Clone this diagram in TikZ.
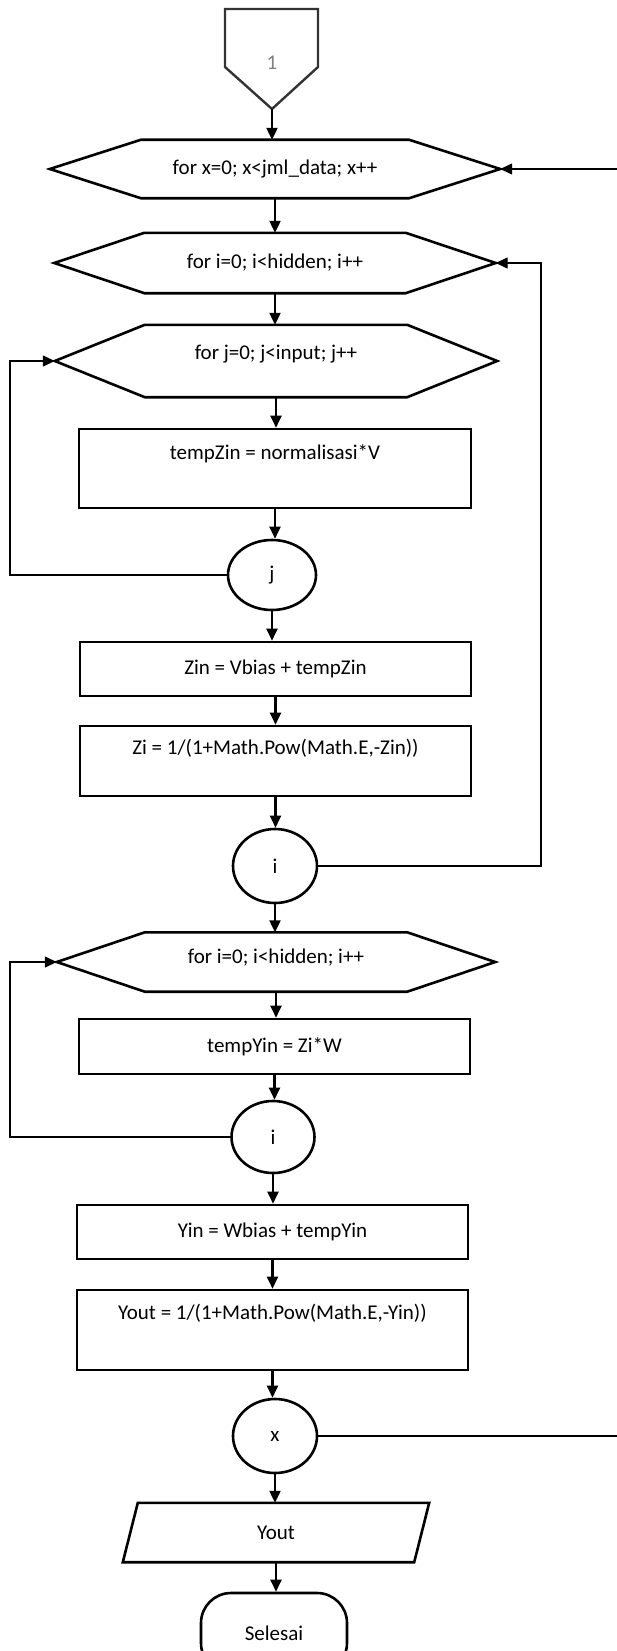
\documentclass[tikz,border=0pt]{standalone}
\usepackage{fontspec}
\setmainfont{Carlito}
\usetikzlibrary{arrows.meta,calc,shapes.geometric}
\newcommand\hexdraw[2]{%
  \draw[shapeline] (#1.north west) -- (#1.north east) -- ($(#1.east)+(#2,0)$) -- (#1.south east) -- (#1.south west) -- ($(#1.west)-(#2,0)$) -- cycle;
  \coordinate (#1w) at ($(#1.west)-(#2,0)$);
  \coordinate (#1e) at ($(#1.east)+(#2,0)$);}
\begin{document}
\begin{tikzpicture}[x=1pt,y=-1pt,
  shapeline/.style={draw=black,line width=2.6pt,line join=miter},
  txt/.style={font=\fontsize{21}{24}\selectfont,inner sep=0pt},
  hexcore/.style={txt,draw=none},
  flowarrow/.style={line width=2.2pt,-{Triangle[length=12pt,width=11pt]}},
  looparrow/.style={line width=1.4pt,-{Triangle[length=12pt,width=11pt]}},
  procbox/.style={draw,line width=2.6pt,inner sep=0pt},
  conn/.style={draw,ellipse,line width=2.6pt,inner sep=0pt,txt},
]
\useasboundingbox (0,0) rectangle (616,1651);
\coordinate (lx) at (10,0);
\coordinate (rx) at (541,0);
\coordinate (ox) at (618,0);

% off-page connector
\node[txt,text=black!50] (op) at (272,63) {1};
\coordinate (opt) at (272,109);
\draw[line width=2.4pt,draw=black!80,line join=miter] (225,9) -- (318,9) -- (318,67) -- (opt) -- (225,67) -- cycle;

% hexagons
\node[hexcore,minimum width=268pt,minimum height=58pt] (h1) at (275,169) {for x=0; x<jml\_data; x++};
\hexdraw{h1}{91}
\node[hexcore,minimum width=261pt,minimum height=60pt] (h2) at (275,263) {for i=0; i<hidden; i++};
\hexdraw{h2}{90}
\node[hexcore,minimum width=262pt,minimum height=72pt] (h3) at (276,361) {};
\hexdraw{h3}{90}
\node[txt] (h3t) at (276,354) {for j=0; j<input; j++};
\node[hexcore,minimum width=262pt,minimum height=59pt] (h4) at (276,962) {};
\hexdraw{h4}{88}
\node[txt] (h4t) at (276,958) {for i=0; i<hidden; i++};

% process boxes
\node[procbox,minimum width=392pt,minimum height=79pt] (b1) at (275,468.5) {};
\node[txt] (b1t) at ($(b1.north)+(0,26)$) {tempZin = normalisasi*V};
\node[procbox,txt,minimum width=391pt,minimum height=54pt] (b2) at (275.5,669) {Zin = Vbias + tempZin};
\node[procbox,minimum width=391pt,minimum height=70pt] (b3) at (275.5,761) {};
\node[txt] (b3t) at ($(b3.north)+(0,24)$) {Zi = 1/(1+Math.Pow(Math.E,-Zin))};
\node[procbox,txt,minimum width=391pt,minimum height=55pt] (b4) at (274.5,1046.5) {tempYin = Zi*W};
\node[procbox,txt,minimum width=391pt,minimum height=54pt] (b5) at (272.5,1232) {Yin = Wbias + tempYin};
\node[procbox,minimum width=391pt,minimum height=80pt] (b6) at (272.5,1330) {};
\node[txt] (b6t) at ($(b6.north)+(0,25)$) {Yout = 1/(1+Math.Pow(Math.E,-Yin))};

% connectors (circles)
\node[conn,minimum width=88pt,minimum height=70pt] (cj) at (272,575) {j};
\node[conn,minimum width=84pt,minimum height=74pt] (ci1) at (275,866) {i};
\node[conn,minimum width=83pt,minimum height=72pt] (ci2) at (273,1137) {i};
\node[conn,minimum width=84pt,minimum height=74pt] (cx) at (275,1436) {x};

% output parallelogram
\node[txt,minimum width=276pt,minimum height=59pt] (yo) at (276,1532.5) {Yout};
\draw[shapeline] (yo.north west) -- ($(yo.north east)+(15,0)$) -- (yo.south east) -- ($(yo.south west)-(15,0)$) -- cycle;

% terminator
\node[draw,line width=2.6pt,rounded corners=30pt,minimum width=146pt,minimum height=80pt,txt] (sel) at (274,1633) {Selesai};

% main flow arrows
\draw[flowarrow] (opt) -- (opt |- h1.north);
\draw[flowarrow] (h1.south) -- (h1.south |- h2.north);
\draw[flowarrow] (h2.south) -- (h2.south |- h3.north);
\draw[flowarrow] (h3.south) -- (h3.south |- b1.north);
\draw[flowarrow] (b1.south) -- (b1.south |- cj.north);
\draw[flowarrow] (cj.south) -- (cj.south |- b2.north);
\draw[flowarrow] (b2.south) -- (b2.south |- b3.north);
\draw[flowarrow] (b3.south) -- (b3.south |- ci1.north);
\draw[flowarrow] (ci1.south) -- (ci1.south |- h4.north);
\draw[flowarrow] (h4.south) -- (h4.south |- b4.north);
\draw[flowarrow] (b4.south) -- (b4.south |- ci2.north);
\draw[flowarrow] (ci2.south) -- (ci2.south |- b5.north);
\draw[flowarrow] (b5.south) -- (b5.south |- b6.north);
\draw[flowarrow] (b6.south) -- (b6.south |- cx.north);
\draw[flowarrow] (cx.south) -- (cx.south |- yo.north);
\draw[flowarrow] (yo.south) -- (yo.south |- sel.north);

% loops
\draw[looparrow] (cj.west) -- (cj.west -| lx) |- (h3w);
\draw[looparrow] (ci1.east) -- (ci1.east -| rx) |- (h2e);
\draw[looparrow] (ci2.west) -- (ci2.west -| lx) |- (h4w);
\draw[looparrow] (cx.east) -- (cx.east -| ox) |- (h1e);
\end{tikzpicture}
\end{document}
